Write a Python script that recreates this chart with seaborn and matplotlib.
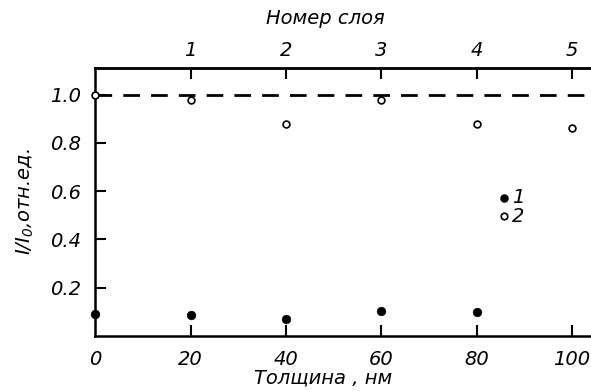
import numpy as np
import pandas as pd
import seaborn as sns
import matplotlib.pyplot as plt

# data
thickness = [0, 20, 40, 60, 80, 100]
open_vals = [1.0, 0.977, 0.878, 0.977, 0.878, 0.863]      # series 2
filled_x = [0, 20, 40, 60, 80]
filled_vals = [0.09, 0.087, 0.07, 0.104, 0.10]             # series 1
layer_pos = [20, 40, 60, 80, 100]
layer_labels = ['1', '2', '3', '4', '5']
y_ticks = [0.2, 0.4, 0.6, 0.8, 1.0]

sns.set_theme(style='white')
plt.rcParams['font.family'] = ['DejaVu Sans']
plt.rcParams['font.style'] = 'italic'
plt.rcParams['mathtext.fontset'] = 'dejavusans'
plt.rcParams['mathtext.default'] = 'it'
plt.rcParams['text.color'] = 'black'
plt.rcParams['axes.labelcolor'] = 'black'
plt.rcParams['xtick.color'] = 'black'
plt.rcParams['ytick.color'] = 'black'
plt.rcParams['xtick.direction'] = 'in'
plt.rcParams['ytick.direction'] = 'in'

df_open = pd.DataFrame({'x': thickness, 'y': open_vals})
df_fill = pd.DataFrame({'x': filled_x, 'y': filled_vals})

fig = plt.figure(figsize=(5.91, 3.91), dpi=100)
ax = fig.add_axes([0.161, 0.141, 0.839, 0.685])

ax.axhline(1.0, color='black', lw=2, ls=(0, (6, 4)), zorder=1)
sns.scatterplot(data=df_open, x='x', y='y', ax=ax, marker='o', s=24,
                facecolor='white', edgecolor='black', linewidth=1.2, zorder=3, clip_on=False)
sns.scatterplot(data=df_fill, x='x', y='y', ax=ax, marker='o', s=38,
                color='black', edgecolor='black', zorder=3, clip_on=False)

# legend drawn as in the original
ax.scatter([85.7], [0.57], s=26, color='black', zorder=3)
ax.scatter([85.7], [0.495], s=22, facecolor='white', edgecolor='black', linewidth=1.2, zorder=3)
ax.text(87.5, 0.575, '1', fontsize=14, va='center', ha='left')
ax.text(87.5, 0.495, '2', fontsize=14, va='center', ha='left')

ax.set_xlim(0, 104)
ax.set_ylim(0, 1.11)
ax.set_xticks([0, 20, 40, 60, 80, 100])
ax.set_yticks(y_ticks)
ax.set_yticklabels([f'{v:.1f}' for v in y_ticks])
ax.tick_params(direction='in', length=8, width=1.5, labelsize=14, colors='black',
               bottom=True, left=True, pad=10)
ax.get_xticklines()[0].set_visible(False)

for side in ['left', 'top', 'bottom']:
    ax.spines[side].set_linewidth(1.8)
    ax.spines[side].set_color('black')
ax.spines['right'].set_visible(False)

ax.set_xlabel('Толщина , нм', fontsize=14, labelpad=0, x=0.46)
ax.set_ylabel('$I/I_0$,отн.ед.', fontsize=14, labelpad=10)

top = ax.secondary_xaxis('top')
top.set_xticks(layer_pos)
top.set_xticklabels(layer_labels)
top.tick_params(direction='in', length=8, width=1.5, labelsize=14, pad=6, colors='black')
top.spines['top'].set_linewidth(1.8)
top.set_xlabel('Номер слоя', fontsize=14, labelpad=12, x=0.465)

fig.savefig('out.png', dpi=100)
